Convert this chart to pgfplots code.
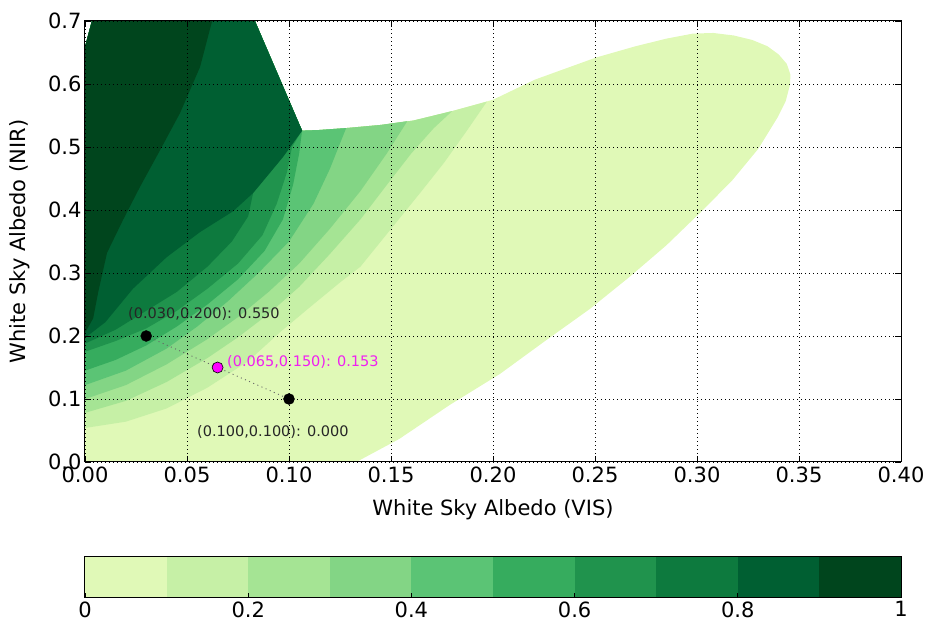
\documentclass[border=0pt]{standalone}
\usepackage{fontspec}
\setmainfont{DejaVu Sans}
\usepackage{pgfplots}
\pgfplotsset{compat=1.18}
\definecolor{c0}{HTML}{E0F9B7}
\definecolor{c1}{HTML}{C6F0A6}
\definecolor{c2}{HTML}{A5E494}
\definecolor{c3}{HTML}{83D585}
\definecolor{c4}{HTML}{5BC475}
\definecolor{c5}{HTML}{36AC5E}
\definecolor{c6}{HTML}{20934D}
\definecolor{c7}{HTML}{0D7A3E}
\definecolor{c8}{HTML}{005F32}
\definecolor{c9}{HTML}{00451D}
\definecolor{mag}{HTML}{FF00FF}
\definecolor{magtext}{HTML}{F020F0}
\begin{document}
\begin{tikzpicture}
\path[use as bounding box] (-85pt,-166pt) rectangle (842pt,462pt);
\begin{axis}[
  scale only axis, width=816pt, height=441pt,
  at={(0pt,0pt)}, anchor=south west,
  xmin=0, xmax=0.4, ymin=0, ymax=0.7,
  xtick={0,0.05,0.1,0.15,0.2,0.25,0.3,0.35,0.4},
  xticklabels={0.00,0.05,0.10,0.15,0.20,0.25,0.30,0.35,0.40},
  ytick={0,0.1,0.2,0.3,0.4,0.5,0.6,0.7},
  yticklabels={0.0,0.1,0.2,0.3,0.4,0.5,0.6,0.7},
  axis on top,
  grid=major,
  grid style={black, line width=0.7pt, dash pattern=on 1pt off 3pt},
  axis line style={black, line width=1pt},
  tick align=inside, major tick length=6pt, tick style={black, line width=0.8pt},
  tick label style={font=\fontsize{21}{24}\selectfont},
  xticklabel style={yshift=-1.5pt},
  label style={font=\fontsize{21}{24}\selectfont},
  xlabel={White Sky Albedo (VIS)}, ylabel={White Sky Albedo (NIR)},
  xlabel style={at={(axis description cs:0.5,-0.109)}, anchor=center},
  ylabel style={at={(axis description cs:-0.08,0.5)}, anchor=center},
]
% level >= 0
\addplot[fill=c0, draw=none] coordinates {
(0,0) (0.133,0) (0.154,0.0365) (0.179,0.091) (0.2035,0.140) (0.2255,0.192) (0.2475,0.243) (0.267,0.294) (0.285,0.344) (0.301,0.394) (0.317,0.446) (0.330,0.497) (0.3397,0.548) (0.3435,0.573) (0.3456,0.599) (0.3458,0.615) (0.344,0.632) (0.340,0.647) (0.3345,0.660) (0.327,0.670) (0.318,0.677) (0.308,0.681) (0.298,0.680) (0.285,0.672) (0.270,0.660) (0.2505,0.642) (0.2206,0.607) (0.200,0.575) (0.18,0.557) (0.161,0.542) (0.145,0.535) (0.128,0.530) (0.115,0.527) (0.1064,0.526) (0.0833,0.70) (0.0034,0.70) (0,0.659)} -- cycle;
% level >= 0.1
\addplot[fill=c1, draw=none] coordinates {
(0,0.054) (0.02,0.064) (0.04,0.085) (0.06,0.118) (0.08,0.16) (0.0956,0.206) (0.11,0.245) (0.125,0.285) (0.135,0.31) (0.145,0.35) (0.155,0.39) (0.165,0.43) (0.176,0.475) (0.187,0.525) (0.197,0.572) (0.18,0.557) (0.161,0.542) (0.145,0.535) (0.128,0.530) (0.115,0.527) (0.1064,0.526) (0.0833,0.70) (0.0034,0.70) (0,0.659)} -- cycle;
% level >= 0.2
\addplot[fill=c2, draw=none] coordinates {
(0,0.078) (0.02,0.097) (0.04,0.127) (0.06,0.165) (0.075,0.198) (0.09,0.235) (0.105,0.278) (0.12,0.33) (0.135,0.385) (0.148,0.44) (0.16,0.49) (0.171,0.53) (0.18,0.557) (0.161,0.542) (0.145,0.535) (0.128,0.530) (0.115,0.527) (0.1064,0.526) (0.0833,0.70) (0.0034,0.70) (0,0.659)} -- cycle;
% level >= 0.3
\addplot[fill=c3, draw=none] coordinates {
(0,0.10) (0.02,0.122) (0.04,0.155) (0.06,0.195) (0.075,0.23) (0.09,0.27) (0.105,0.315) (0.12,0.37) (0.135,0.43) (0.148,0.49) (0.158,0.541) (0.145,0.535) (0.128,0.530) (0.115,0.527) (0.1064,0.526) (0.0833,0.70) (0.0034,0.70) (0,0.659)} -- cycle;
% level >= 0.4
\addplot[fill=c4, draw=none] coordinates {
(0,0.122) (0.02,0.145) (0.04,0.18) (0.055,0.215) (0.07,0.255) (0.085,0.30) (0.10,0.35) (0.112,0.41) (0.12,0.465) (0.128,0.530) (0.115,0.527) (0.1064,0.526) (0.0833,0.70) (0.0034,0.70) (0,0.659)} -- cycle;
% level >= 0.5
\addplot[fill=c5, draw=none] coordinates {
(0,0.145) (0.015,0.162) (0.03,0.185) (0.045,0.215) (0.06,0.25) (0.075,0.29) (0.088,0.335) (0.097,0.385) (0.102,0.44) (0.105,0.49) (0.1064,0.526) (0.0833,0.70) (0.0034,0.70) (0,0.659)} -- cycle;
% level >= 0.6
\addplot[fill=c6, draw=none] coordinates {
(0,0.175) (0.015,0.192) (0.03,0.212) (0.045,0.24) (0.06,0.275) (0.075,0.315) (0.087,0.36) (0.094,0.41) (0.099,0.46) (0.1015,0.50) (0.1064,0.526) (0.0833,0.70) (0.0034,0.70) (0,0.659)} -- cycle;
% level >= 0.7
\addplot[fill=c7, draw=none] coordinates {
(0,0.188) (0.015,0.21) (0.03,0.24) (0.045,0.27) (0.06,0.31) (0.072,0.35) (0.08,0.39) (0.0824,0.427) (0.097,0.484) (0.1064,0.526) (0.0833,0.70) (0.0034,0.70) (0,0.659)} -- cycle;
% level >= 0.8
\addplot[fill=c8, draw=none] coordinates {
(0,0.197) (0.01,0.222) (0.0235,0.275) (0.040,0.325) (0.0564,0.365) (0.0726,0.398) (0.0824,0.427) (0.097,0.484) (0.1064,0.526) (0.0833,0.70) (0.0034,0.70) (0,0.659)} -- cycle;
% level >= 0.9
\addplot[fill=c9, draw=none] coordinates {
(0,0.205) (0.004,0.228) (0.0065,0.27) (0.0108,0.332) (0.0186,0.384) (0.027,0.437) (0.0368,0.495) (0.0466,0.554) (0.0564,0.627) (0.0623,0.70) (0.0034,0.70) (0,0.659)} -- cycle;
% path between points
\addplot[black!60, line width=0.9pt, dash pattern=on 1pt off 3.5pt] coordinates {(0.03,0.2) (0.065,0.15) (0.1,0.1)};
\addplot[only marks, mark=*, mark size=5.5pt, black] coordinates {(0.03,0.2) (0.1,0.1)};
\addplot[only marks, mark=*, mark size=5.5pt, mark options={fill=mag, draw=black, line width=0.6pt}] coordinates {(0.065,0.15)};
\node[anchor=west, inner sep=0pt, text=black!85, font=\fontsize{14.5}{16}\selectfont] at (axis cs:0.0211,0.2357) {(0.030,0.200): 0.550};
\node[anchor=west, inner sep=0pt, text=magtext, font=\fontsize{14.5}{16}\selectfont] at (axis cs:0.0696,0.1587) {(0.065,0.150): 0.153};
\node[anchor=west, inner sep=0pt, text=black!85, font=\fontsize{14.5}{16}\selectfont] at (axis cs:0.0549,0.0476) {(0.100,0.100): 0.000};
\end{axis}
\begin{axis}[
  scale only axis, width=816pt, height=41pt,
  at={(0pt,-136pt)}, anchor=south west,
  xmin=0, xmax=1, ymin=0, ymax=1,
  xtick={0,0.2,0.4,0.6,0.8,1}, xticklabels={0,0.2,0.4,0.6,0.8,1},
  ytick=\empty,
  xtick pos=bottom,
  axis on top,
  axis line style={black, line width=1pt},
  tick align=inside, major tick length=5pt, tick style={black, line width=0.8pt},
  tick label style={font=\fontsize{21}{24}\selectfont},
]
\addplot[fill=c0, draw=none] coordinates {(0,0) (0.1,0) (0.1,1) (0,1)} -- cycle;
\addplot[fill=c1, draw=none] coordinates {(0.1,0) (0.2,0) (0.2,1) (0.1,1)} -- cycle;
\addplot[fill=c2, draw=none] coordinates {(0.2,0) (0.3,0) (0.3,1) (0.2,1)} -- cycle;
\addplot[fill=c3, draw=none] coordinates {(0.3,0) (0.4,0) (0.4,1) (0.3,1)} -- cycle;
\addplot[fill=c4, draw=none] coordinates {(0.4,0) (0.5,0) (0.5,1) (0.4,1)} -- cycle;
\addplot[fill=c5, draw=none] coordinates {(0.5,0) (0.6,0) (0.6,1) (0.5,1)} -- cycle;
\addplot[fill=c6, draw=none] coordinates {(0.6,0) (0.7,0) (0.7,1) (0.6,1)} -- cycle;
\addplot[fill=c7, draw=none] coordinates {(0.7,0) (0.8,0) (0.8,1) (0.7,1)} -- cycle;
\addplot[fill=c8, draw=none] coordinates {(0.8,0) (0.9,0) (0.9,1) (0.8,1)} -- cycle;
\addplot[fill=c9, draw=none] coordinates {(0.9,0) (1,0) (1,1) (0.9,1)} -- cycle;
\end{axis}
\end{tikzpicture}
\end{document}
